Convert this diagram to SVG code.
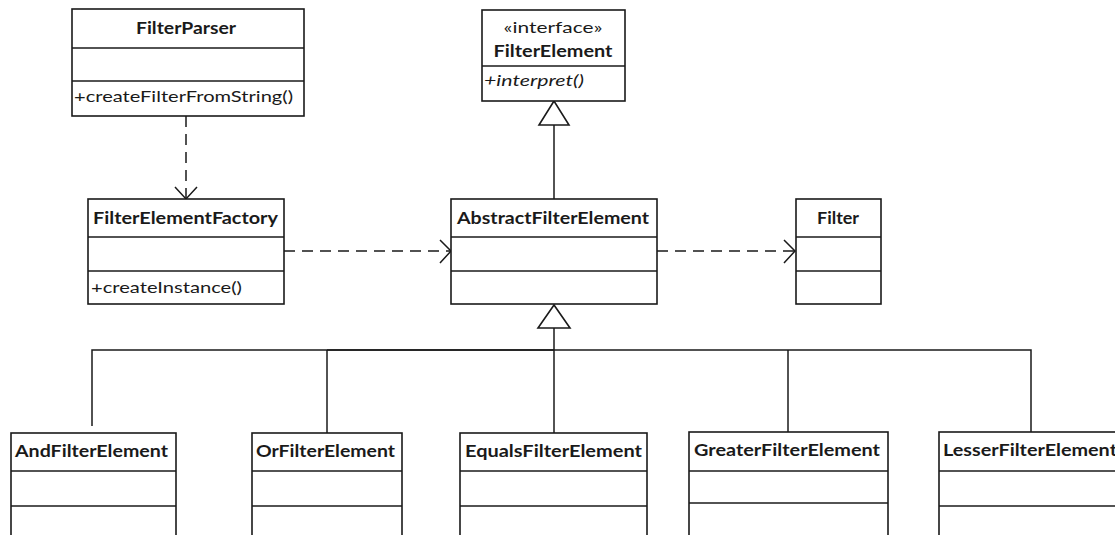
<svg xmlns="http://www.w3.org/2000/svg" width="1115" height="535" viewBox="0 0 1115 535">
  <style>
    .box { fill: #ffffff; stroke: #1a1a1a; stroke-width: 1.6; }
    .sep { stroke: #1a1a1a; stroke-width: 1.6; }
    .name { font-family: "Lato", "Open Sans", sans-serif; font-size: 17px; font-weight: bold; fill: #1a1a1a; }
    .op { font-family: "Lato", "Open Sans", sans-serif; font-size: 16px; fill: #1a1a1a; }
    .it { font-style: italic; }
    .line { fill: none; stroke: #1a1a1a; stroke-width: 1.5; }
    .dash { fill: none; stroke: #1a1a1a; stroke-width: 1.5; stroke-dasharray: 11 7; }
    .head { fill: none; stroke: #1a1a1a; stroke-width: 1.5; }
    .tri { fill: #ffffff; stroke: #1a1a1a; stroke-width: 1.6; }
  </style>
  <rect width="1115" height="535" fill="#ffffff"/>

  <g id="connectors">
    <!-- FilterParser uses FilterElementFactory -->
    <path class="dash" d="M186,116 V198"/>
    <path class="head" d="M175,187 L186,199 L197,187"/>
    <!-- FilterElementFactory uses AbstractFilterElement -->
    <path class="dash" d="M284,251 H450"/>
    <path class="head" d="M440,240 L451,251 L440,263"/>
    <!-- AbstractFilterElement uses Filter -->
    <path class="dash" d="M657,251 H794"/>
    <path class="head" d="M784,240 L795,251 L784,263"/>
    <!-- AbstractFilterElement realizes FilterElement -->
    <path class="line" d="M554,125 V199"/>
    <path class="tri" d="M554,101 L539,125 L569,125 Z"/>
    <!-- subclasses generalize AbstractFilterElement -->
    <path class="line" d="M554,328 V433"/>
    <path class="tri" d="M554,305 L538,328 L570,328 Z"/>
    <path class="line" d="M92,426 V350 H1031 V432"/>
    <path class="line" d="M327,350 H554" stroke-width="3"/>
    <path class="line" d="M327,350 V433"/>
    <path class="line" d="M788,350 V432"/>
  </g>

  <g id="FilterParser">
    <rect class="box" x="72" y="9" width="232" height="107"/>
    <line class="sep" x1="72" y1="48" x2="304" y2="48"/>
    <line class="sep" x1="72" y1="81" x2="304" y2="81"/>
    <text class="name" x="186" y="34" text-anchor="middle" textLength="100" lengthAdjust="spacingAndGlyphs">FilterParser</text>
    <text class="op" x="74" y="102" textLength="219" lengthAdjust="spacingAndGlyphs">+createFilterFromString()</text>
  </g>

  <g id="FilterElement">
    <rect class="box" x="482" y="10" width="143" height="91"/>
    <line class="sep" x1="482" y1="66" x2="625" y2="66"/>
    <text class="op" x="553" y="33" text-anchor="middle" textLength="99" lengthAdjust="spacingAndGlyphs">«interface»</text>
    <text class="name" x="553" y="57" text-anchor="middle" textLength="119" lengthAdjust="spacingAndGlyphs">FilterElement</text>
    <text class="op it" x="484" y="86" textLength="100" lengthAdjust="spacingAndGlyphs">+interpret()</text>
  </g>

  <g id="FilterElementFactory">
    <rect class="box" x="88" y="199" width="196" height="105"/>
    <line class="sep" x1="88" y1="237" x2="284" y2="237"/>
    <line class="sep" x1="88" y1="271" x2="284" y2="271"/>
    <text class="name" x="93" y="224" textLength="185" lengthAdjust="spacingAndGlyphs">FilterElementFactory</text>
    <text class="op" x="91" y="293" textLength="151" lengthAdjust="spacingAndGlyphs">+createInstance()</text>
  </g>

  <g id="AbstractFilterElement">
    <rect class="box" x="451" y="199" width="206" height="105"/>
    <line class="sep" x1="451" y1="237" x2="657" y2="237"/>
    <line class="sep" x1="451" y1="271" x2="657" y2="271"/>
    <text class="name" x="457" y="224" textLength="192" lengthAdjust="spacingAndGlyphs">AbstractFilterElement</text>
  </g>

  <g id="Filter">
    <rect class="box" x="796" y="199" width="85" height="105"/>
    <line class="sep" x1="796" y1="237" x2="881" y2="237"/>
    <line class="sep" x1="796" y1="271" x2="881" y2="271"/>
    <text class="name" x="838" y="224" text-anchor="middle" textLength="42" lengthAdjust="spacingAndGlyphs">Filter</text>
  </g>

  <g id="AndFilterElement">
    <rect class="box" x="11" y="433" width="165" height="110"/>
    <line class="sep" x1="11" y1="471" x2="176" y2="471"/>
    <line class="sep" x1="11" y1="506" x2="176" y2="506"/>
    <text class="name" x="15" y="457" textLength="153" lengthAdjust="spacingAndGlyphs">AndFilterElement</text>
  </g>

  <g id="OrFilterElement">
    <rect class="box" x="252" y="433" width="150" height="110"/>
    <line class="sep" x1="252" y1="471" x2="402" y2="471"/>
    <line class="sep" x1="252" y1="506" x2="402" y2="506"/>
    <text class="name" x="256" y="457" textLength="139" lengthAdjust="spacingAndGlyphs">OrFilterElement</text>
  </g>

  <g id="EqualsFilterElement">
    <rect class="box" x="460" y="433" width="187" height="110"/>
    <line class="sep" x1="460" y1="471" x2="647" y2="471"/>
    <line class="sep" x1="460" y1="506" x2="647" y2="506"/>
    <text class="name" x="465" y="457" textLength="177" lengthAdjust="spacingAndGlyphs">EqualsFilterElement</text>
  </g>

  <g id="GreaterFilterElement">
    <rect class="box" x="689" y="432" width="199" height="110"/>
    <line class="sep" x1="689" y1="471" x2="888" y2="471"/>
    <line class="sep" x1="689" y1="503" x2="888" y2="503"/>
    <text class="name" x="694" y="456" textLength="186" lengthAdjust="spacingAndGlyphs">GreaterFilterElement</text>
  </g>

  <g id="LesserFilterElement">
    <rect class="box" x="939" y="432" width="190" height="110"/>
    <line class="sep" x1="939" y1="471" x2="1129" y2="471"/>
    <line class="sep" x1="939" y1="506" x2="1129" y2="506"/>
    <text class="name" x="943" y="456" textLength="174" lengthAdjust="spacingAndGlyphs">LesserFilterElement</text>
  </g>
</svg>
